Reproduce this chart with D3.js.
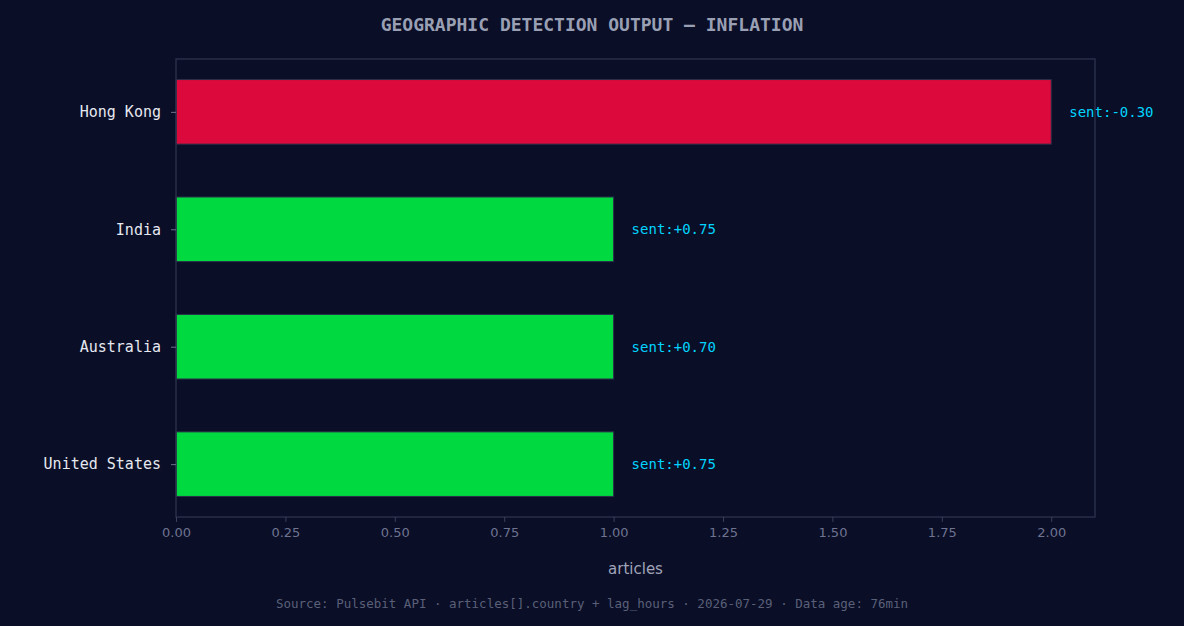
<!DOCTYPE html><html><head><meta charset="utf-8">
<script src="https://d3js.org/d3.v7.min.js"></script>
<style>body{margin:0;background:#0a0e27;}svg{display:block}</style></head><body>
<script>
const countries=["Hong Kong","India","Australia","United States"];
const articles=[2,1,1,1];
const sentiment=[-0.30,0.75,0.70,0.75];
const xTicks=[0,0.25,0.5,0.75,1,1.25,1.5,1.75,2];
const W=1184,H=626,L=176,R=1095,T=59,B=517;
const svg=d3.select("body").append("svg").attr("width",W).attr("height",H);
svg.append("rect").attr("width",W).attr("height",H).attr("fill","#0a0e27");
const x=d3.scaleLinear().domain([0,2.1]).range([L,R]);
const y=d3.scaleLinear().domain([-0.45,3.45]).range([T,B]);
const bh=y(0.55)-y(0);
svg.selectAll(".bar").data(countries).join("rect")
 .attr("x",x(0)).attr("y",(d,i)=>y(i)-bh/2).attr("width",(d,i)=>x(articles[i])-x(0)).attr("height",bh)
 .attr("fill",(d,i)=>sentiment[i]<0?"#dc0a3c":"#00d93f").attr("stroke","#2a2f4a").attr("stroke-width",1);
svg.selectAll(".lab").data(countries).join("text")
 .attr("x",(d,i)=>x(articles[i])+18).attr("y",(d,i)=>y(i)+5)
 .attr("fill","#00d4ff").attr("font-family","DejaVu Sans Mono").attr("font-size",14)
 .text((d,i)=>"sent:"+(sentiment[i]>=0?"+":"")+sentiment[i].toFixed(2));
svg.append("rect").attr("x",L).attr("y",T).attr("width",R-L).attr("height",B-T).attr("fill","none").attr("stroke","#2a2f4a").attr("stroke-width",1.5);
const xa=svg.append("g").attr("transform",`translate(0,${B})`).call(d3.axisBottom(x).tickValues(xTicks).tickFormat(d3.format(".2f")).tickSize(5).tickPadding(6));
xa.select(".domain").remove();
xa.selectAll("line").attr("stroke","#3a3f5a");
xa.selectAll("text").attr("fill","#6e7390").attr("font-family","DejaVu Sans").attr("font-size",13);
const ya=svg.append("g").attr("transform",`translate(${L},0)`).call(d3.axisLeft(y).tickValues(d3.range(countries.length)).tickFormat(i=>countries[i]).tickSize(5).tickPadding(10));
ya.select(".domain").remove();
ya.selectAll("line").attr("stroke","#6e7390");
ya.selectAll("text").attr("fill","#e6e8f0").attr("font-family","DejaVu Sans Mono").attr("font-size",15);
svg.append("text").attr("x",(L+R)/2).attr("y",574).attr("text-anchor","middle").attr("fill","#a0a4b8").attr("font-family","DejaVu Sans").attr("font-size",15).text("articles");
svg.append("text").attr("x",592).attr("y",31).attr("text-anchor","middle").attr("fill","#9aa0b4").attr("font-family","DejaVu Sans Mono").attr("font-weight","bold").attr("font-size",18).text("GEOGRAPHIC DETECTION OUTPUT — INFLATION");
svg.append("text").attr("x",592).attr("y",608).attr("text-anchor","middle").attr("fill","#5a6078").attr("font-family","DejaVu Sans Mono").attr("font-size",12.5).text("Source: Pulsebit API · articles[].country + lag_hours · 2026-07-29 · Data age: 76min");
</script></body></html>
